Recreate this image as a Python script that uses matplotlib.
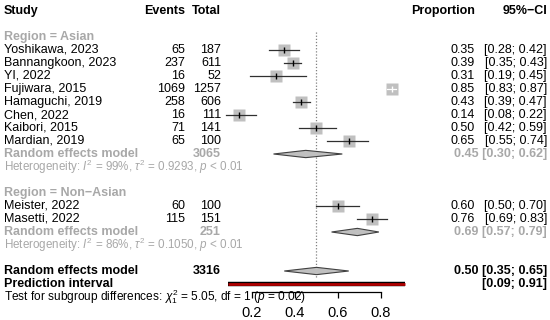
import matplotlib.pyplot as plt
from matplotlib.patches import Polygon

plt.rcParams['font.family'] = ['Liberation Sans', 'DejaVu Sans']
plt.rcParams['mathtext.fontset'] = 'custom'
plt.rcParams['mathtext.rm'] = 'Liberation Sans'
plt.rcParams['mathtext.it'] = 'Liberation Sans:italic'
plt.rcParams['mathtext.bf'] = 'Liberation Sans:bold'

# Data: proportions by study, grouped by region
asian_studies = ['Yoshikawa, 2023', 'Bannangkoon, 2023', 'YI, 2022', 'Fujiwara, 2015',
                 'Hamaguchi, 2019', 'Chen, 2022', 'Kaibori, 2015', 'Mardian, 2019']
asian_events = [65, 237, 16, 1069, 258, 16, 71, 65]
asian_totals = [187, 611, 52, 1257, 606, 111, 141, 100]
asian_prop = [0.35, 0.39, 0.31, 0.85, 0.43, 0.14, 0.50, 0.65]
asian_lower = [0.28, 0.35, 0.19, 0.83, 0.39, 0.08, 0.42, 0.55]
asian_upper = [0.42, 0.43, 0.45, 0.87, 0.47, 0.22, 0.59, 0.74]

nonasian_studies = ['Meister, 2022', 'Masetti, 2022']
nonasian_events = [60, 115]
nonasian_totals = [100, 151]
nonasian_prop = [0.60, 0.76]
nonasian_lower = [0.50, 0.69]
nonasian_upper = [0.70, 0.83]

# pooled estimates: total, est, lower, upper
asian_pooled = (3065, 0.45, 0.30, 0.62)
asian_het = ('99%', '0.9293', '< 0.01')
nonasian_pooled = (251, 0.69, 0.57, 0.79)
nonasian_het = ('86%', '0.1050', '< 0.01')
overall_pooled = (3316, 0.50, 0.35, 0.65)
pred_interval = (0.09, 0.91)
subgroup_test = ('5.05', '1', '0.02')
null_value = 0.5
x_ticks = [0.2, 0.4, 0.6, 0.8]

W, H = 550, 320
fig = plt.figure(figsize=(W / 100, H / 100), dpi=100)
ax = fig.add_axes([0, 0, 1, 1])

# map proportion units and rows onto the picture
x0_px, unit_px = 209, 215
ax.set_xlim(-x0_px / unit_px, (W - x0_px) / unit_px)
row0_px, row_px = 11, 13
ax.set_ylim((H - row0_px) / row_px, -row0_px / row_px)

grey = '#a8a8a8'
box_col = '#c0c0c0'
fs = 9
sq_px = 12
tr = ax.get_yaxis_transform()


def txt(xpx, row, s, ha='left', **kw):
    kw.setdefault('fontsize', fs)
    ax.text(xpx / W, row, s, ha=ha, va='center', transform=tr, **kw)


def diamond(row, est, lo, hi):
    h = 0.28
    ax.add_patch(Polygon([(lo, row), (est, row - h), (hi, row), (est, row + h)],
                         closed=True, facecolor=box_col, edgecolor='#404040', lw=0.8, zorder=3))


def study_rows(row, names, ev, tot, p, lo, hi):
    for i in range(len(names)):
        row += 1
        txt(4, row, names[i])
        txt(185, row, str(ev[i]), ha='right')
        txt(221, row, str(tot[i]), ha='right')
        txt(475, row, f'{p[i]:.2f}', ha='right')
        txt(547, row, f'[{lo[i]:.2f}; {hi[i]:.2f}]', ha='right')
        ax.plot(p[i], row, marker='s', ms=sq_px * 0.72, color=box_col, mec='none', zorder=2)
        inside = (hi[i] - lo[i]) * unit_px < sq_px
        ax.plot([lo[i], hi[i]], [row, row], color='white' if inside else '#303030', lw=0.9, zorder=3)
        ax.plot(p[i], row, marker='|', ms=4, mew=1, color='white' if inside else 'black', zorder=4)
    return row


def pooled_rows(row, pooled, het):
    row += 1
    txt(4, row, 'Random effects model', color=grey, weight='bold')
    txt(221, row, str(pooled[0]), ha='right', color=grey, weight='bold')
    txt(547, row, f'{pooled[1]:.2f} [{pooled[2]:.2f}; {pooled[3]:.2f}]', ha='right', color=grey, weight='bold')
    diamond(row, pooled[1], pooled[2], pooled[3])
    row += 1
    txt(4, row, f'Heterogeneity: $I^2$ = {het[0]}, $\\tau^2$ = {het[1]}, $p$ {het[2]}', color=grey, fontsize=8.4)
    return row


# header
txt(4, 0, 'Study', weight='bold')
txt(185, 0, 'Events', ha='right', weight='bold')
txt(221, 0, 'Total', ha='right', weight='bold')
txt(475, 0, 'Proportion', ha='right', weight='bold')
txt(547, 0, '95%\u2212CI', ha='right', weight='bold')

row = 2
txt(4, row, 'Region = Asian', color=grey, weight='bold')
row = study_rows(row, asian_studies, asian_events, asian_totals, asian_prop, asian_lower, asian_upper)
row = pooled_rows(row, asian_pooled, asian_het)

row += 2
txt(4, row, 'Region = Non\u2212Asian', color=grey, weight='bold')
row = study_rows(row, nonasian_studies, nonasian_events, nonasian_totals, nonasian_prop, nonasian_lower, nonasian_upper)
row = pooled_rows(row, nonasian_pooled, nonasian_het)

row += 2
txt(4, row, 'Random effects model', weight='bold')
txt(221, row, str(overall_pooled[0]), ha='right', weight='bold')
txt(547, row, f'{overall_pooled[1]:.2f} [{overall_pooled[2]:.2f}; {overall_pooled[3]:.2f}]', ha='right', weight='bold')
diamond(row, overall_pooled[1], overall_pooled[2], overall_pooled[3])
overall_row = row

row += 1
txt(4, row, 'Prediction interval', weight='bold')
txt(547, row, f'[{pred_interval[0]:.2f}; {pred_interval[1]:.2f}]', ha='right', weight='bold')
ax.plot(pred_interval, [row, row], color='black', lw=3.2, solid_capstyle='butt', zorder=3)
ax.plot(pred_interval, [row, row], color='#b00000', lw=2, solid_capstyle='butt', zorder=4)

row += 1
txt(4, row, f'Test for subgroup differences: $\\chi^2_{{{subgroup_test[1]}}}$ = {subgroup_test[0]}, '
            f'df = {subgroup_test[1]} ($p$ = {subgroup_test[2]})', fontsize=8.6)

# dotted null line
ax.plot([null_value, null_value], [1.6, overall_row + 0.5], color='#808080', lw=0.9, ls=(0, (1, 1.5)), zorder=1)

# x axis
for s in ['top', 'left', 'right']:
    ax.spines[s].set_visible(False)
ax.spines['bottom'].set_position(('data', 21.6))
ax.spines['bottom'].set_bounds(x_ticks[0], x_ticks[-1])
ax.spines['bottom'].set_linewidth(0.9)
ax.set_xticks(x_ticks)
ax.set_xticklabels([f'{t:.1f}' for t in x_ticks])
ax.tick_params(axis='x', direction='out', length=4, width=0.9, labelsize=10.5, pad=6)
ax.set_yticks([])
ax.patch.set_visible(False)

fig.savefig('out.png', dpi=100)
